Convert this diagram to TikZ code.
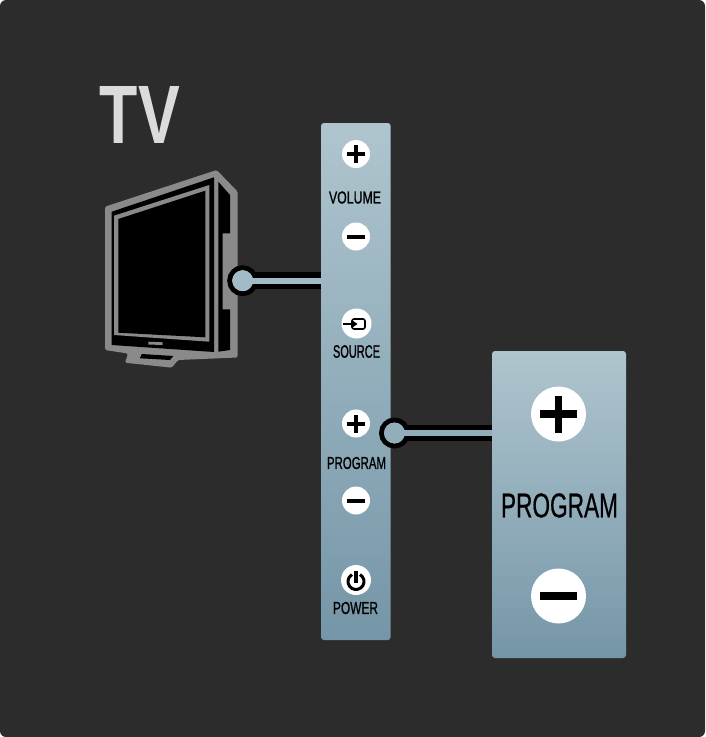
\documentclass[tikz,border=0pt]{standalone}
\usepackage{graphicx}
\usepackage{fontspec}
\setmainfont{Liberation Sans}
\newfontfamily\semib[FakeBold=1.2]{Liberation Sans}
\newfontfamily\semic[FakeBold=0.7]{Liberation Sans}
\definecolor{bgdark}{HTML}{2C2C2C}
\definecolor{tvgrey}{HTML}{8A8A8A}
\definecolor{paneltop}{HTML}{AFC5CE}
\definecolor{panelbot}{HTML}{7596A8}
\definecolor{dotA}{HTML}{A2BBC6}
\definecolor{dotB}{HTML}{92AEBB}
\newcommand{\fitlabel}[3]{\resizebox{#1pt}{#2pt}{#3}}
\tikzset{
  panel/.style={rectangle,rounded corners=3pt,inner sep=0pt,top color=paneltop,bottom color=panelbot,draw=none},
  btn/.style={circle,fill=white,inner sep=0pt,minimum size=#1},
  dotnode/.style={circle,inner sep=0pt,minimum size=26pt,draw=black,line width=5pt},
  lbl/.style={inner sep=0pt,text=black,font=\semib\fontsize{14}{14}\selectfont},
  glyph/.style={line width=#1,draw=black,line cap=butt}
}
\begin{document}
\begin{tikzpicture}[x=1pt,y=-1pt]
\useasboundingbox (0,0) rectangle (705,737);
\fill[white] (0,0) rectangle (705,737);
\fill[bgdark,rounded corners=6pt] (0,0) rectangle (705,737);

% TV title
\node[inner sep=0pt,text=white!86!black,font=\bfseries] (title) at (140,114.5) {\fitlabel{80}{57}{TV}};

% TV set
\fill[tvgrey,rounded corners=1.5pt] (105,206.7) -- (216.7,170) -- (237.7,191.7) -- (237.7,357.5) -- (178,360) -- (171.7,367.7) -- (125,362.7) -- (128,353.5) -- (105,350) -- cycle;
\fill[black] (111.7,211.7) -- (214,177.3) -- (214,352) -- (111.7,345) -- cycle;
\fill[tvgrey] (114,215.7) -- (209.3,185) -- (209.3,341.7) -- (114,335) -- cycle;
\fill[black] (118.3,219) -- (205.3,190.7) -- (205.3,337.3) -- (118.3,332.7) -- cycle;
\fill[black] (218.3,181.7) -- (230,195) -- (230,233.3) -- (222.7,233.3) -- (222.7,309.3) -- (230,309.3) -- (230,350) -- (218.3,351.7) -- cycle;
\fill[tvgrey] (148.3,341.7) -- (162.7,342.3) -- (162.7,345) -- (148.3,344.5) -- cycle;
\fill[black] (141.7,354) -- (173.3,356) -- (170,360) -- (140,358.3) -- cycle;

% Panels
\node[panel,minimum width=69.7pt,minimum height=517pt] (volpanel) at (355.85,381.5) {};
\node[panel,minimum width=134pt,minimum height=307pt] (progpanel) at (559,504.5) {};

% Connector 1
\coordinate (tvend) at (volpanel.west |- 242.7,280.7);
\node[dotnode,fill=dotA] (tvdot) at (242.7,280.7) {};
\draw[black,line width=16.5pt] (tvdot.center) -- (tvend);
\draw[dotA,line width=5.7pt] (tvdot.center) -- (tvend);
\fill[dotA] (tvdot.center) circle (10.5pt);

% Connector 2
\coordinate (progend) at (progpanel.west |- 394.5,433);
\node[dotnode,fill=dotB] (progdot) at (394.5,433) {};
\draw[black,line width=16.5pt] (progdot.center) -- (progend);
\draw[dotB,line width=5.7pt] (progdot.center) -- (progend);
\fill[dotB] (progdot.center) circle (10.5pt);

% Small buttons
\node[btn=28pt] (volplus) at (356,154) {};
\draw[glyph=4pt] ([xshift=-9pt]volplus.center) -- ([xshift=9pt]volplus.center);
\draw[glyph=4pt] ([yshift=-9pt]volplus.center) -- ([yshift=9pt]volplus.center);
\node[lbl] (vollabel) at (355,197.5) {\fitlabel{52}{12}{VOLUME}};
\node[btn=28pt] (volminus) at (356,236.5) {};
\draw[glyph=4pt] ([xshift=-9pt]volminus.center) -- ([xshift=9pt]volminus.center);

\node[btn=30pt] (source) at (356.5,323.5) {};
\draw[black,line width=1.6pt,rounded corners=2pt,fill=white] (352,319) rectangle (365,329);
\draw[black,line width=1.6pt] (343,324) -- (353,324);
\fill[black] (357.5,324) -- (352.5,320.5) -- (352.5,327.5) -- cycle;
\node[lbl] (srclabel) at (356.5,351.5) {\fitlabel{47}{12.5}{SOURCE}};

\node[btn=28pt] (progplus) at (356,423.5) {};
\draw[glyph=4pt] ([xshift=-9pt]progplus.center) -- ([xshift=9pt]progplus.center);
\draw[glyph=4pt] ([yshift=-9pt]progplus.center) -- ([yshift=9pt]progplus.center);
\node[lbl] (proglabel) at (356.5,463) {\fitlabel{59}{12}{PROGRAM}};
\node[btn=28pt] (progminus) at (356,500.5) {};
\draw[glyph=4pt] ([xshift=-9pt]progminus.center) -- ([xshift=9pt]progminus.center);

\node[btn=30pt] (power) at (356,580) {};
\draw[black,line width=3pt] (356,581.5) ++(60:8pt) arc[start angle=60,end angle=-240,radius=8pt];
\draw[black,line width=3.6pt] (356,570.5) -- (356,583);
\node[lbl] (powlabel) at (355.5,608) {\fitlabel{45}{12}{POWER}};

% Large buttons
\node[btn=55pt] (bigplus) at (558.5,414) {};
\draw[glyph=7.5pt] ([xshift=-18.5pt]bigplus.center) -- ([xshift=18.5pt]bigplus.center);
\draw[glyph=7.5pt] ([yshift=-18.5pt]bigplus.center) -- ([yshift=18.5pt]bigplus.center);
\node[inner sep=0pt,font=\semic] (biglabel) at (559.5,505.5) {\fitlabel{117}{24}{PROGRAM}};
\node[btn=55pt] (bigminus) at (558.5,596) {};
\draw[glyph=7.5pt] ([xshift=-18.5pt]bigminus.center) -- ([xshift=18.5pt]bigminus.center);
\end{tikzpicture}
\end{document}
